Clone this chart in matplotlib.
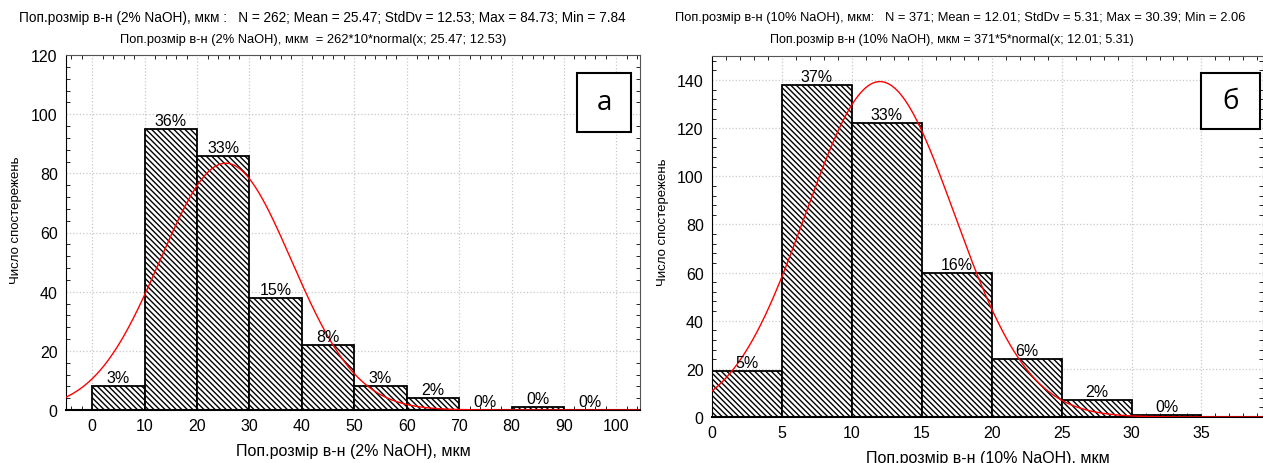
import numpy as np
import matplotlib
matplotlib.use("Agg")
import matplotlib.pyplot as plt
from matplotlib.ticker import MultipleLocator
from matplotlib.patches import Rectangle

plt.rcParams['font.family'] = ['Liberation Sans', 'DejaVu Sans']
plt.rcParams['hatch.linewidth'] = 1.0

# ---- data, panel a (2% NaOH) ----
a_edges = [0, 10, 20, 30, 40, 50, 60, 70, 80, 90, 100]
a_counts = [8, 95, 86, 38, 22, 8, 4, 0, 1, 0]
a_pct = ["3%", "36%", "33%", "15%", "8%", "3%", "2%", "0%", "0%", "0%"]
a_N, a_width, a_mean, a_sd = 262, 10, 25.47, 12.53
a_title1 = "Поп.розмір в-н (2% NaOH), мкм :   N = 262; Mean = 25.47; StdDv = 12.53; Max = 84.73; Min = 7.84"
a_title2 = "Поп.розмір в-н (2% NaOH), мкм  = 262*10*normal(x; 25.47; 12.53)"
a_xlabel = "Поп.розмір в-н (2% NaOH), мкм"

# ---- data, panel b (10% NaOH) ----
b_edges = [0, 5, 10, 15, 20, 25, 30, 35]
b_counts = [19, 138, 122, 60, 24, 7, 1]
b_pct = ["5%", "37%", "33%", "16%", "6%", "2%", "0%"]
b_N, b_width, b_mean, b_sd = 371, 5, 12.01, 5.31
b_title1 = "Поп.розмір в-н (10% NaOH), мкм:   N = 371; Mean = 12.01; StdDv = 5.31; Max = 30.39; Min = 2.06"
b_title2 = "Поп.розмір в-н (10% NaOH), мкм = 371*5*normal(x; 12.01; 5.31)"
b_xlabel = "Поп.розмір в-н (10% NaOH), мкм"

ylabel = "Число спостережень"

W, H = 1263, 464
fig = plt.figure(figsize=(W / 100, H / 100), dpi=100)


def px_axes(l, t, r, b):
    return fig.add_axes([l / W, 1 - b / H, (r - l) / W, (b - t) / H])


def normal_curve(x, N, w, m, s):
    return N * w * np.exp(-0.5 * ((x - m) / s) ** 2) / (s * np.sqrt(2 * np.pi))


def draw(ax, axpx, edges, counts, pct, N, w, m, s, xlim, ylim, xstep, ystep, yminor,
         letter, boxpx, xlabel, ylab_y):
    edges = np.asarray(edges, float)
    lefts = edges[:-1]
    widths = np.diff(edges)
    ax.bar(lefts, counts, width=widths, align='edge', facecolor='white',
           edgecolor='black', hatch='\\\\\\\\\\\\', linewidth=1.3, zorder=2)
    for xl, wd, c, p in zip(lefts, widths, counts, pct):
        ax.text(xl + wd / 2, c + ylim[1] * 0.003, p, ha='center', va='bottom',
                fontsize=11.5, zorder=4)
    xs = np.linspace(xlim[0], xlim[1], 600)
    ax.plot(xs, normal_curve(xs, N, w, m, s), color='red', lw=1.0, zorder=3)
    ax.set_xlim(*xlim)
    ax.set_ylim(*ylim)
    ax.xaxis.set_major_locator(MultipleLocator(xstep))
    ax.xaxis.set_minor_locator(MultipleLocator(xstep / 5))
    ax.yaxis.set_major_locator(MultipleLocator(ystep))
    ax.yaxis.set_minor_locator(MultipleLocator(yminor))
    ax.grid(True, which='major', color='#c8c8c8', linestyle=':', linewidth=0.9, zorder=0)
    ax.set_axisbelow(True)
    ax.tick_params(axis='both', which='major', direction='in', length=0, labelsize=11.5,
                   top=False, right=False, pad=6)
    ax.tick_params(axis='x', which='minor', direction='in', length=3, bottom=True, top=True)
    ax.tick_params(axis='y', which='minor', direction='in', length=3, left=True, right=True)
    for sp in ax.spines.values():
        sp.set_linewidth(0.8)
        sp.set_color('#555555')
    ax.spines['left'].set_color('black')
    ax.spines['bottom'].set_color('black')
    ax.spines['bottom'].set_linewidth(1.5)
    ax.set_xlabel(xlabel, fontsize=11.5, labelpad=7)
    ax.set_ylabel(ylabel, fontsize=9.5)
    l, t, r, b = axpx
    ax.yaxis.set_label_coords(ax.yaxis.label.get_position()[0], (b - ylab_y) / (b - t))
    # letter box, placed in axes fractions
    bl, bt, br, bb = boxpx
    fx0 = (bl - l) / (r - l)
    fx1 = (br - l) / (r - l)
    fy0 = (b - bb) / (b - t)
    fy1 = (b - bt) / (b - t)
    ax.add_patch(Rectangle((fx0, fy0), fx1 - fx0, fy1 - fy0, transform=ax.transAxes,
                           facecolor='white', edgecolor='black', linewidth=1.5,
                           zorder=5, clip_on=False))
    ax.text((fx0 + fx1) / 2, (fy0 + fy1) / 2, letter, transform=ax.transAxes,
            ha='center', va='center', fontsize=20,
            family=['Open Sans', 'DejaVu Sans'], zorder=6)


a_px = (66, 56, 640, 411)
ax1 = px_axes(*a_px)
draw(ax1, a_px, a_edges, a_counts, a_pct, a_N, a_width, a_mean, a_sd,
     (-5, 104.5), (0, 120), 10, 20, 4, "а", (577, 74, 631, 133), a_xlabel, 220)
ax1.yaxis.label.set_x(-0.087)

b_px = (712, 57, 1263, 418)
ax2 = px_axes(*b_px)
draw(ax2, b_px, b_edges, b_counts, b_pct, b_N, b_width, b_mean, b_sd,
     (0, 39.4), (0, 150), 5, 20, 4, "б", (1201, 74, 1260, 130), b_xlabel, 222)

# place y labels at measured pixel x-centres
ax1.yaxis.set_label_coords((16 - 66) / (640 - 66), (411 - 220) / (411 - 56))
ax2.yaxis.set_label_coords((663 - 712) / (1263 - 712), (418 - 222) / (418 - 57))
ax1.yaxis.label.set_va('center')
ax2.yaxis.label.set_va('center')

fig.text(322 / W, 1 - 18 / H, a_title1, ha='center', va='center', fontsize=9.85)
fig.text(313 / W, 1 - 40 / H, a_title2, ha='center', va='center', fontsize=9.3)
fig.text(960 / W, 1 - 18 / H, b_title1, ha='center', va='center', fontsize=9.25)
fig.text(952 / W, 1 - 40 / H, b_title2, ha='center', va='center', fontsize=9.0)

fig.savefig("out.png", dpi=100)
